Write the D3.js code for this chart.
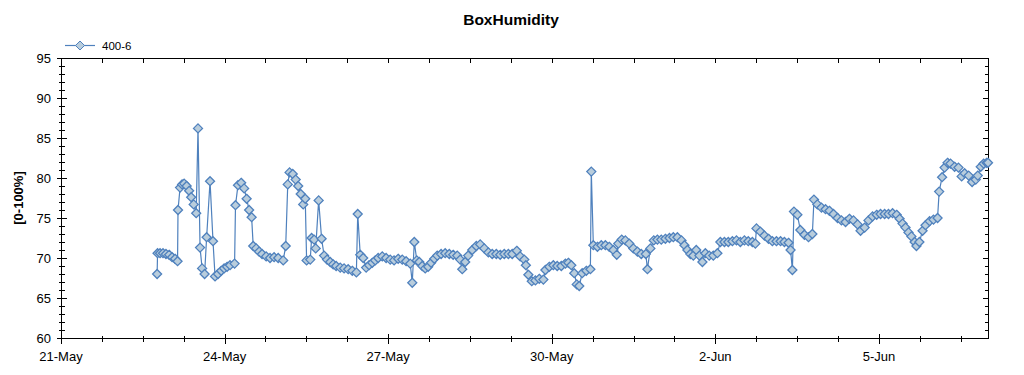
<!DOCTYPE html>
<html>
<head>
<script src="https://d3js.org/d3.v7.min.js"></script>
<style>
  body { margin: 0; background: #fff; }
  text { font-family: "Liberation Sans", Arial, sans-serif; }
</style>
</head>
<body>
<div id="viz"></div>
<script type="text/javascript">
// chart text
var title = "BoxHumidity";
var yLabel = "[0-100%]";
var seriesName = "400-6";

// axis ticks
var yTicks = [60, 65, 70, 75, 80, 85, 90, 95];
var xTickLabels = ["21-May", "24-May", "27-May", "30-May", "2-Jun", "5-Jun"];

// readings: [hours since 21-May 00:00, humidity %]
var readings = [
  [42.3, 68.0], [42.5, 70.6], [43.6, 70.6], [44.9, 70.6], [46.2, 70.5], [47.6, 70.4],
  [48.9, 70.1], [50.2, 69.9], [51.3, 69.6], [51.5, 76.0], [52.4, 78.8], [53.3, 79.2],
  [54.2, 79.3], [55.3, 79.0], [56.4, 78.4], [57.3, 77.6], [58.4, 76.7], [59.5, 75.6],
  [60.3, 86.2], [61.2, 71.3], [62.1, 68.7], [63.2, 68.0], [64.1, 72.6], [65.6, 79.6],
  [66.9, 72.1], [67.8, 67.7], [69.1, 68.0], [70.5, 68.4], [71.8, 68.7], [73.1, 68.9],
  [74.4, 69.1], [76.4, 69.3], [76.8, 76.6], [77.9, 79.1], [79.3, 79.4], [80.6, 78.7],
  [81.7, 77.4], [82.8, 76.0], [83.9, 75.1], [84.6, 71.5], [85.9, 71.2], [87.2, 70.8],
  [88.5, 70.5], [90.3, 70.2], [92.0, 70.0], [93.8, 70.1], [95.6, 70.0], [97.8, 69.7],
  [98.9, 71.5], [99.8, 79.2], [100.6, 80.7], [102.0, 80.5], [103.3, 79.8], [104.4, 79.0],
  [105.5, 78.0], [106.6, 76.7], [107.5, 77.4], [108.1, 69.7], [109.7, 69.8], [110.3, 72.5],
  [111.4, 72.3], [112.1, 71.2], [113.4, 77.2], [114.7, 72.4], [115.8, 70.3], [117.1, 69.8],
  [118.5, 69.5], [119.8, 69.2], [121.1, 69.0], [122.9, 68.8], [124.6, 68.7], [126.4, 68.6],
  [128.2, 68.4], [130.0, 68.2], [130.6, 75.5], [131.7, 70.4], [133.0, 70.0], [134.3, 68.8],
  [135.6, 69.1], [137.0, 69.4], [138.3, 69.7], [139.6, 70.0], [141.4, 70.2], [143.1, 70.0],
  [144.9, 69.8], [146.6, 69.7], [148.4, 69.9], [150.2, 69.8], [151.9, 69.6], [153.7, 69.3],
  [154.6, 66.9], [155.5, 72.0], [156.6, 69.7], [157.7, 69.5], [159.0, 69.0], [160.3, 68.7],
  [161.6, 68.9], [162.9, 69.4], [164.3, 69.9], [165.6, 70.3], [167.3, 70.5], [169.1, 70.6],
  [170.9, 70.5], [172.6, 70.4], [174.4, 70.3], [175.7, 69.8], [176.6, 68.6], [177.9, 69.5],
  [179.2, 70.3], [181.0, 71.0], [182.8, 71.5], [184.5, 71.7], [186.3, 71.2], [188.1, 70.7],
  [189.8, 70.5], [191.6, 70.5], [193.3, 70.4], [195.1, 70.5], [196.9, 70.5], [198.6, 70.5],
  [200.6, 70.9], [202.1, 70.2], [203.9, 69.8], [204.6, 69.1], [205.7, 67.9], [207.2, 67.1],
  [208.8, 67.2], [210.5, 67.4], [212.3, 67.3], [213.2, 68.5], [214.9, 68.9], [216.7, 69.1],
  [218.4, 69.0], [220.2, 69.0], [222.0, 69.3], [223.3, 69.4], [224.6, 69.1], [225.9, 68.1],
  [227.0, 66.7], [228.1, 66.5], [229.4, 68.1], [231.2, 68.4], [233.0, 68.6], [233.4, 80.8],
  [234.3, 71.6], [236.1, 71.4], [237.8, 71.6], [239.6, 71.6], [241.3, 71.4], [243.1, 71.0],
  [244.6, 70.4], [245.3, 71.8], [246.8, 72.3], [248.4, 72.2], [250.1, 71.8], [251.9, 71.2],
  [253.7, 70.8], [255.4, 70.5], [257.4, 70.5], [258.1, 68.6], [259.4, 71.2], [260.9, 72.2],
  [262.5, 72.3], [264.2, 72.3], [266.0, 72.4], [267.8, 72.5], [269.5, 72.6], [271.3, 72.6],
  [273.1, 72.2], [274.4, 71.6], [275.7, 71.0], [277.0, 70.5], [278.3, 70.3], [279.6, 71.0],
  [281.0, 70.3], [282.3, 69.5], [283.6, 70.6], [285.3, 70.3], [287.1, 70.3], [288.9, 70.6],
  [290.2, 72.0], [292.0, 72.0], [293.7, 72.0], [295.5, 72.1], [297.3, 72.2], [299.0, 72.0],
  [300.8, 72.2], [302.5, 72.1], [304.3, 72.0], [305.6, 71.8], [306.1, 73.7], [307.8, 73.3],
  [309.6, 72.8], [311.4, 72.4], [313.1, 72.1], [314.9, 72.1], [316.7, 72.1], [318.4, 72.0],
  [320.2, 71.9], [321.1, 71.0], [321.9, 68.5], [322.6, 75.8], [324.1, 75.4], [325.4, 73.5],
  [327.2, 72.9], [329.0, 72.6], [330.7, 73.0], [331.4, 77.3], [332.9, 76.7], [334.7, 76.3],
  [336.5, 76.1], [338.2, 75.9], [340.0, 75.5], [341.8, 75.0], [343.5, 74.7], [345.3, 74.5],
  [347.0, 74.9], [348.8, 74.7], [350.6, 74.2], [351.9, 73.4], [353.7, 73.8], [355.4, 74.7],
  [357.2, 75.2], [359.0, 75.4], [360.7, 75.5], [362.5, 75.5], [364.2, 75.5], [366.0, 75.6],
  [367.8, 75.4], [369.1, 74.9], [370.4, 74.3], [371.7, 73.8], [373.0, 73.2], [374.3, 72.7],
  [375.7, 72.0], [376.5, 71.5], [377.8, 72.0], [379.2, 73.4], [380.5, 74.1], [382.3, 74.6],
  [384.0, 74.8], [385.8, 75.0], [386.5, 78.3], [387.8, 80.1], [388.9, 81.3], [390.2, 81.9],
  [391.5, 81.8], [393.3, 81.4], [395.0, 81.3], [396.4, 80.2], [397.7, 80.6], [399.5, 80.3],
  [401.0, 79.5], [402.6, 79.8], [403.5, 80.3], [404.8, 81.4], [406.1, 81.8], [407.4, 81.9],
  [408.0, 81.9]
];

var start = new Date(2011, 4, 21);
var end = new Date(2011, 5, 7);

var width = 1024, height = 375;
var margin = { top: 58, right: 36, bottom: 37, left: 61 };

var svg = d3.select("#viz").append("svg")
    .attr("width", width)
    .attr("height", height);

var x = d3.scaleTime().domain([start, end]).range([margin.left, width - margin.right]);
var y = d3.scaleLinear().domain([60, 95]).range([height - margin.bottom, margin.top]);

function toDate(h) { return new Date(start.getTime() + h * 3600 * 1000); }

var data = readings.map(function(d) { return { t: toDate(d[0]), v: d[1] }; });

var majorX = xTickLabels.map(function(d, i) { return d3.timeDay.offset(start, i * 3); });
var minorX = d3.range(0, 17 * 24 + 1, 18).map(toDate);
var minorY = d3.range(60, 96, 1);

var x0 = margin.left + 0.5, x1 = width - margin.right + 0.5;
var y0 = height - margin.bottom + 0.5, y1 = margin.top + 0.5;

var axes = svg.append("g").attr("stroke", "#000").attr("shape-rendering", "crispEdges");

// frame
axes.append("line").attr("x1", x0).attr("x2", x1).attr("y1", y0).attr("y2", y0);
axes.append("line").attr("x1", x0).attr("x2", x1).attr("y1", y1).attr("y2", y1);
axes.append("line").attr("x1", x0).attr("x2", x0).attr("y1", y1).attr("y2", y0);
axes.append("line").attr("x1", x1).attr("x2", x1).attr("y1", y1).attr("y2", y0);

// bottom ticks (crossing)
axes.selectAll(".bminor").data(minorX).enter().append("line")
    .attr("x1", function(d) { return Math.round(x(d)) + 0.5; })
    .attr("x2", function(d) { return Math.round(x(d)) + 0.5; })
    .attr("y1", y0 - 3).attr("y2", y0 + 3);
axes.selectAll(".bmajor").data(majorX).enter().append("line")
    .attr("x1", function(d) { return Math.round(x(d)) + 0.5; })
    .attr("x2", function(d) { return Math.round(x(d)) + 0.5; })
    .attr("y1", y0 - 5).attr("y2", y0 + 5);
// top ticks (inward)
axes.selectAll(".tminor").data(minorX).enter().append("line")
    .attr("x1", function(d) { return Math.round(x(d)) + 0.5; })
    .attr("x2", function(d) { return Math.round(x(d)) + 0.5; })
    .attr("y1", y1).attr("y2", y1 + 4);
// left ticks (crossing)
axes.selectAll(".lminor").data(minorY).enter().append("line")
    .attr("y1", function(d) { return Math.round(y(d)) + 0.5; })
    .attr("y2", function(d) { return Math.round(y(d)) + 0.5; })
    .attr("x1", x0 - 3).attr("x2", x0 + 3);
axes.selectAll(".lmajor").data(yTicks).enter().append("line")
    .attr("y1", function(d) { return Math.round(y(d)) + 0.5; })
    .attr("y2", function(d) { return Math.round(y(d)) + 0.5; })
    .attr("x1", x0 - 5).attr("x2", x0 + 5);
// right ticks (inward)
axes.selectAll(".rminor").data(minorY).enter().append("line")
    .attr("y1", function(d) { return Math.round(y(d)) + 0.5; })
    .attr("y2", function(d) { return Math.round(y(d)) + 0.5; })
    .attr("x1", x1 - 4).attr("x2", x1);
axes.selectAll(".rmajor").data(yTicks).enter().append("line")
    .attr("y1", function(d) { return Math.round(y(d)) + 0.5; })
    .attr("y2", function(d) { return Math.round(y(d)) + 0.5; })
    .attr("x1", x1 - 6).attr("x2", x1);

// tick labels
svg.selectAll(".ylab").data(yTicks).enter().append("text")
    .attr("x", 51).attr("y", function(d) { return y(d) + 4.5; })
    .attr("text-anchor", "end").attr("font-size", 13)
    .text(function(d) { return d; });
svg.selectAll(".xlab").data(majorX).enter().append("text")
    .attr("x", function(d) { return x(d); }).attr("y", 361)
    .attr("text-anchor", "middle").attr("font-size", 13)
    .text(function(d, i) { return xTickLabels[i]; });

// title & axis label
svg.append("text").attr("x", 511).attr("y", 25)
    .attr("text-anchor", "middle").attr("font-size", 15.5).attr("font-weight", "bold")
    .text(title);
svg.append("text")
    .attr("transform", "translate(23," + (y(77.5)) + ") rotate(-90)")
    .attr("text-anchor", "middle").attr("font-size", 13).attr("font-weight", "bold")
    .text(yLabel);

var lineColor = "#4f81bd", markFill = "#b9cddc";
var diamond = "M0,-4.5L4.5,0L0,4.5L-4.5,0Z";

// series
svg.append("path").datum(data)
    .attr("fill", "none").attr("stroke", lineColor).attr("stroke-width", 1.2)
    .attr("d", d3.line().x(function(d) { return x(d.t); }).y(function(d) { return y(d.v); }));

svg.selectAll(".pt").data(data).enter().append("path")
    .attr("d", diamond)
    .attr("transform", function(d) { return "translate(" + x(d.t) + "," + y(d.v) + ")"; })
    .attr("fill", markFill).attr("stroke", lineColor).attr("stroke-width", 1.3);

// legend
var lg = svg.append("g").attr("transform", "translate(65,45)");
lg.append("line").attr("x1", 0).attr("x2", 30).attr("y1", 0.5).attr("y2", 0.5)
    .attr("stroke", lineColor).attr("stroke-width", 1.2);
lg.append("path").attr("d", diamond).attr("transform", "translate(15,0.5)")
    .attr("fill", markFill).attr("stroke", lineColor).attr("stroke-width", 1);
lg.append("text").attr("x", 37).attr("y", 4.5).attr("font-size", 11.5).text(seriesName);
</script>
</body>
</html>
